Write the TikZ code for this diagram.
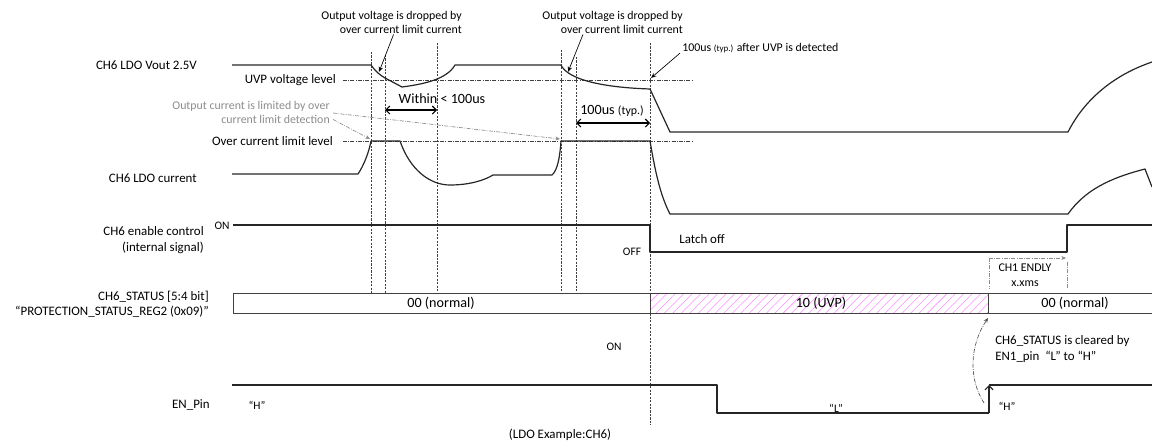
\documentclass[tikz,border=0pt]{standalone}
\usepackage{fontspec}
\setmainfont{Carlito}
\usetikzlibrary{arrows.meta,calc,patterns.meta}

\begin{document}
\begin{tikzpicture}[
  x=0.75pt, y=-0.75pt,
  font=\fontsize{9.7}{12}\selectfont,
  lbl/.style = {anchor=east, align=right, inner sep=0pt},
  note/.style = {inner sep=0pt, align=right, font=\fontsize{8.9}{10.5}\selectfont},
  small/.style = {inner sep=0pt, font=\fontsize{8.6}{10}\selectfont},
  big/.style = {inner sep=0pt, font=\fontsize{10.6}{12}\selectfont},
  wave/.style = {line width=0.9pt, black!85, line join=round},
  guide/.style = {line width=0.5pt, black!75, dash pattern=on 1.6pt off 1pt},
  level/.style = {line width=0.5pt, black!75, dash pattern=on 3pt off 1pt on 0.6pt off 1pt},
  arrow/.style = {-{Stealth[length=4pt,width=3.2pt]}, line width=0.5pt, black},
  dim/.style = {{Straight Barb[length=3pt,width=6pt]}-{Straight Barb[length=3pt,width=6pt]}, line width=0.8pt},
  hint/.style = {line width=0.5pt, black!45, dash pattern=on 3pt off 1pt on 0.6pt off 1pt},
  hintarrow/.style = {hint, -{Stealth[length=3.5pt,width=3pt]}},
  regbox/.style = {line width=0.7pt, black!75},
]
  \useasboundingbox (0,0) rectangle (1152,443);

  % timing guides
  \foreach \gx/\gy in {371/52, 385/55, 437/43, 561/50, 576/57}
    \draw[guide] (\gx,\gy) -- (\gx,293);
  \draw[guide] (650,43) -- (650,425);

  % signal names
  \node[lbl] (vout) at (197,65) {CH6 LDO Vout 2.5V};
  \node[lbl] (cur) at (197,178) {CH6 LDO current};
  \node[lbl] (enctl) at (204,240) {CH6 enable control\\(internal signal)};
  \node[lbl, font=\fontsize{9.7}{11}\selectfont] (stat) at (209,304) {CH6\_STATUS [5:4 bit]\\“PROTECTION\_STATUS\_REG2 (0x09)”};
  \node[lbl] (enpin) at (210,405) {EN\_Pin};

  % levels
  \node[lbl] (uvp) at (336,80) {UVP voltage level};
  \coordinate (uvpend) at (692,80);
  \draw[level] ($(uvp.east)+(7,0)$) -- (uvpend);
  \node[lbl] (ocl) at (333,141) {Over current limit level};
  \coordinate (oclend) at (692,141);
  \draw[level] ($(ocl.east)+(10,0)$) -- (oclend);

  % Vout
  \draw[wave] (232,65) -- (371,65) .. controls (376,72) and (380,75) .. (385,78) -- (402,87)
    .. controls (425,84) and (447,79) .. (455,65) -- (561,65)
    .. controls (566,76) and (590,87) .. (650,89) -- (670,132) -- (1068,132)
    .. controls (1080,108) and (1105,78) .. (1152,62);

  % LDO current
  \draw[wave] (232,174) -- (358,174) .. controls (364,165) and (369,152) .. (371,141) -- (400,141)
    .. controls (410,170) and (430,185) .. (450,185) .. controls (470,185) and (485,180) .. (493,175)
    -- (552,175) .. controls (558,170) and (560,155) .. (561,141) -- (650,141)
    .. controls (655,170) and (660,195) .. (670,214) -- (1068,214)
    .. controls (1085,190) and (1110,178) .. (1145,169) -- (1152,187);

  % enable control
  \draw[wave] (233,225) -- (650,225) -- (650,252) -- (1067,252) -- (1067,225) -- (1152,225);
  \node[small] (on1) at (222,226) {ON};
  \node[small] (off) at (632,252) {OFF};
  \node (latch) at (702,239) {Latch off};

  % notes on top
  \node[note, anchor=east] (drop1) at (462,22) {Output voltage is dropped by\\over current limit current};
  \coordinate (drop1tip) at (379,72);
  \draw[arrow] ($(drop1.south)+(2,1)$) -- (drop1tip);
  \node[note, anchor=east] (drop2) at (683,22) {Output voltage is dropped by\\over current limit current};
  \coordinate (drop2tip) at (568,72);
  \draw[arrow] ($(drop2.south west)!0.29!(drop2.south east)+(0,1)$) -- (drop2tip);
  \node[note, anchor=west] (uvpnote) at (682,48) {100us {\fontsize{6.7}{8}\selectfont (typ.)} after UVP is detected};
  \coordinate (uvptip) at (651,78);
  \draw[arrow] ($(uvpnote.south west)+(-2,0)$) -- (uvptip);

  \node[note, black!45, anchor=east] (limnote) at (330,112) {Output current is limited by over\\current limit detection};
  \coordinate (limtipA) at (370,139);
  \coordinate (limtipB) at (560,139);
  \draw[hintarrow] ($(limnote.east)+(3,1)$) -- (limtipB);
  \draw[hintarrow] ($(limnote.south east)+(3,-4)$) -- (limtipA);

  % intervals
  \coordinate (wA) at (385,110);
  \coordinate (wB) at (437,110);
  \draw[dim] (wA) -- (wB);
  \node[big] (within) at (442,99) {Within < 100us};
  \coordinate (tA) at (576,123);
  \coordinate (tB) at (650,123);
  \draw[dim] (tA) -- (tB);
  \node[big] (typ) at (612,111) {100us {\fontsize{8.9}{10}\selectfont (typ.)}};

  % ENDLY
  \coordinate (dlyA) at (989,258);
  \coordinate (dlyB) at (1066,258);
  \draw[hintarrow] (dlyA) -- (dlyB);
  \draw[hint] (dlyA) -- (989,288);
  \draw[hint] (1067,262) -- (1067,288);
  \node[small, align=center, font=\fontsize{8.9}{11}\selectfont] (endly) at (1025,275) {CH1 ENDLY\\x.xms};

  % status register
  \fill[pattern={Lines[angle=45,distance=4.5pt,line width=0.4pt]}, pattern color=magenta!45] (650,293) rectangle (988,313);
  \draw[regbox] (1152,293) -- (233,293) -- (233,313) -- (1152,313);
  \draw[regbox] (650,293) -- (650,313);
  \draw[regbox] (988,293) -- (988,313);
  \node[big] (norm1) at (441,303) {00 (normal)};
  \node[big] (uvpst) at (821,303) {10 (UVP)};
  \node[big] (norm2) at (1075,303) {00 (normal)};

  % EN pin
  \draw[wave] (232,385) -- (717,385) -- (717,413) -- (989,413);
  \draw[wave, -{Straight Barb[length=3pt,width=6pt]}] (989,413) -- (989,385);
  \draw[wave] (989,385) -- (1152,385);
  \node[small] (h1) at (257,405) {“H”};
  \node[small] (lo) at (836,408) {“L”};
  \node[small] (h2) at (1007,406) {“H”};
  \node[small] (on2) at (614,347) {ON};

  \node[anchor=west, align=left, inner sep=0pt, font=\fontsize{9.7}{12.5}\selectfont] (clr) at (995,349) {CH6\_STATUS is cleared by\\EN1\_pin~~“L” to “H”};
  \coordinate (clrA) at (984,403);
  \coordinate (clrB) at (988,318);
  \draw[hintarrow, black!70] (clrA) .. controls (968,378) and (970,345) .. (clrB);

  \node (caption) at (560,435) {(LDO Example:CH6)};
\end{tikzpicture}
\end{document}
